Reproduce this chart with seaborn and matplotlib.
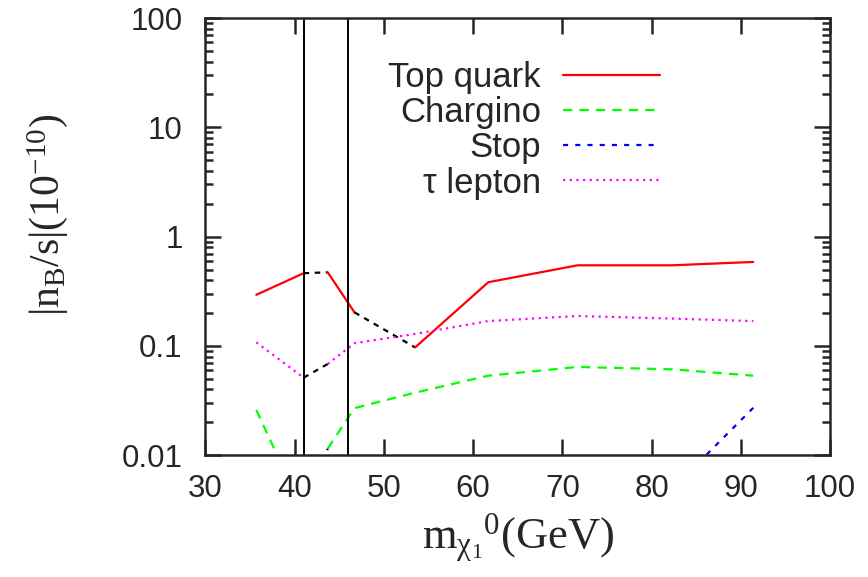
import matplotlib
matplotlib.use("Agg")
import matplotlib.pyplot as plt
import seaborn as sns
import numpy as np
from matplotlib.lines import Line2D
from matplotlib.ticker import LogLocator, NullFormatter, FixedLocator

# ---- data ----
mass = [35.7, 41.0, 43.7, 46.7, 53.5, 61.7, 71.7, 82.3, 91.4]
top_quark = [0.294, 0.463, 0.472, 0.203, 0.097, 0.383, 0.547, 0.547, 0.587]
chargino = [0.026, 0.003, 0.0115, 0.027, 0.0374, 0.0535, 0.0643, 0.0612, 0.0535]
tau_lepton = [0.108, 0.0513, 0.0684, 0.106, 0.129, 0.169, 0.188, 0.178, 0.169]
stop_mass = [82.3, 91.4]
stop = [0.0049, 0.0272]
vlines_x = [41.0, 46.0]
x_ticks = [30, 40, 50, 60, 70, 80, 90, 100]
y_ticks = [0.01, 0.1, 1, 10, 100]
y_tick_labels = ["0.01", "0.1", "1", "10", "100"]
series_labels = ["Top quark", "Chargino", "Stop", "τ lepton"]

sns.set_style("ticks")
plt.rcParams["font.family"] = ["Liberation Sans", "DejaVu Sans"]
plt.rcParams["mathtext.fontset"] = "custom"
plt.rcParams["mathtext.rm"] = "Liberation Serif"
plt.rcParams["mathtext.it"] = "Liberation Serif"
plt.rcParams["mathtext.bf"] = "Liberation Serif:bold"

fig = plt.figure(figsize=(8.68, 5.77), dpi=100)
ax = fig.add_axes([0.2367, 0.2109, 0.7195, 0.7579])

LW = 1.6
RED, GREEN, BLUE, MAG = "#ff0000", "#00ff00", "#0000ff", "#ff00ff"
solid = "-"
green_dash = (0, (4.2, 3.2))
blue_dash = (0, (2.3, 3.2))
dotted = (0, (1, 2))
black_dash = (0, (2.5, 2.5))


def seg(xs, ys, i0, i1, color, ls):
    sns.lineplot(x=xs[i0:i1 + 1], y=ys[i0:i1 + 1], ax=ax, color=color,
                 linestyle=ls, linewidth=LW, sort=False, estimator=None)

# top quark
seg(mass, top_quark, 0, 1, RED, solid)
seg(mass, top_quark, 1, 2, "black", black_dash)
seg(mass, top_quark, 2, 3, RED, solid)
seg(mass, top_quark, 3, 4, "black", black_dash)
seg(mass, top_quark, 4, 8, RED, solid)
# chargino
seg(mass, chargino, 0, 1, GREEN, green_dash)
seg(mass, chargino, 1, 2, "black", black_dash)
seg(mass, chargino, 2, 8, GREEN, green_dash)
# stop
seg(stop_mass, stop, 0, 1, BLUE, blue_dash)
# tau lepton
seg(mass, tau_lepton, 0, 1, MAG, dotted)
seg(mass, tau_lepton, 1, 2, "black", black_dash)
seg(mass, tau_lepton, 2, 8, MAG, dotted)

for xv in vlines_x:
    ax.axvline(xv, color="black", linewidth=1.4)

ax.set_yscale("log")
ax.set_xlim(30, 100)
ax.set_ylim(0.01, 100)
ax.xaxis.set_major_locator(FixedLocator(x_ticks))
ax.set_xticklabels([str(t) for t in x_ticks])
ax.yaxis.set_major_locator(FixedLocator(y_ticks))
ax.set_yticklabels(y_tick_labels)
ax.yaxis.set_minor_locator(LogLocator(base=10, subs=np.arange(2, 10)))
ax.yaxis.set_minor_formatter(NullFormatter())

ax.tick_params(which="major", direction="in", length=11.5, width=1.8,
               top=True, right=True, labelsize=22.5)
ax.tick_params(axis="y", which="major", pad=16.5)
ax.tick_params(axis="x", which="major", pad=13.5)
ax.tick_params(which="minor", direction="in", length=5.8, width=1.8,
               top=True, right=True)
for sp in ax.spines.values():
    sp.set_linewidth(1.8)
    sp.set_visible(True)

ax.set_xlabel(r"$\mathrm{m_{\chi_1}{}^{0}(GeV)}$", fontsize=32)
ax.set_ylabel(r"$\mathrm{|n_B/s|(10^{-10})}$", fontsize=30)
ax.xaxis.set_label_coords(0.5, -0.128)
ax.yaxis.set_label_coords(-0.217, 0.55)

handles = [
    Line2D([], [], color=RED, linestyle=solid, linewidth=LW),
    Line2D([], [], color=GREEN, linestyle=green_dash, linewidth=LW),
    Line2D([], [], color=BLUE, linestyle=blue_dash, linewidth=LW),
    Line2D([], [], color=MAG, linestyle=dotted, linewidth=LW),
]
ax.legend(handles, series_labels, loc="upper right",
          bbox_to_anchor=(0.728, 0.902),
          frameon=False, markerfirst=False, fontsize=25, handlelength=2.8,
          handletextpad=0.63, labelspacing=0.065, borderpad=0.0,
          borderaxespad=0.0)
leg = ax.get_legend()
for t in leg.get_texts():
    t.set_ha("right")

fig.savefig("out.png", dpi=100)
